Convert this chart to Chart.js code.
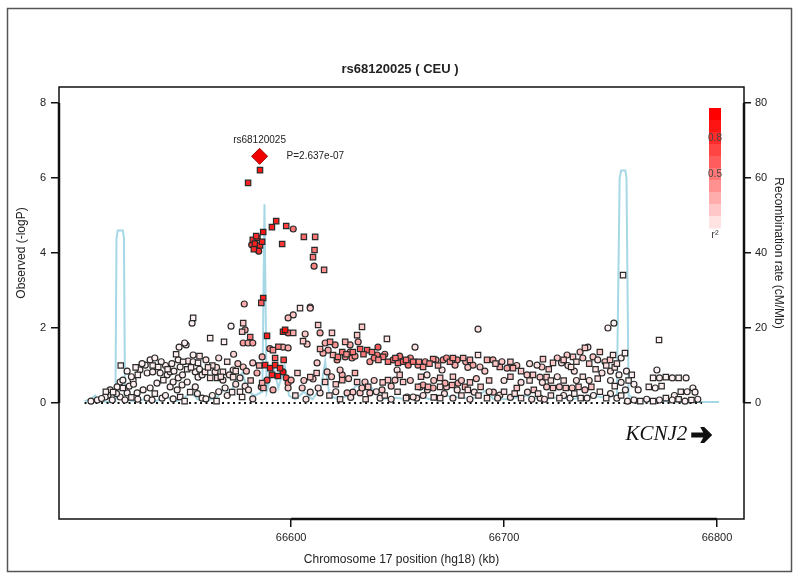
<!DOCTYPE html>
<html>
<head>
<meta charset="utf-8">
<script src="https://cdn.jsdelivr.net/npm/chart.js@4.4.1/dist/chart.umd.min.js"></script>
<style>
  html, body { margin: 0; padding: 0; background: #fff; }
  #wrap { width: 800px; height: 580px; }
</style>
</head>
<body>
<div id="wrap"><canvas id="chart" width="800" height="580"></canvas></div>
<script>
// ---- data ------------------------------------------------------------
const plotTitle = 'rs68120025 ( CEU )';
const xTitle = 'Chromosome 17 position (hg18) (kb)';
const yTitle = 'Observed (-logP)';
const y2Title = 'Recombination rate (cM/Mb)';

const xTicks = [66600, 66700, 66800];
const yTicks = [0, 2, 4, 6, 8];
const y2Ticks = [0, 20, 40, 60, 80];

// lead SNP
const leadName = 'rs68120025';
const leadPos = 66585.2;
const leadLogP = 6.579;
const leadPText = 'P=2.637e-07';

// gene track
const geneName = 'KCNJ2';
const genePos = 66757;
const geneRow = -0.85;

// r2 legend steps (top to bottom) and labels
const r2Steps = [1.0, 0.9, 0.8, 0.7, 0.6, 0.5, 0.4, 0.3, 0.2, 0.1];
const r2Labels = [0.8, 0.5];

// genotyped SNPs [kb, -logP, r2]
const squares = [
  [66585.4,6.21,0.9],[66579.8,5.87,0.85],
  [66586.9,4.56,0.9],[66591.0,4.69,0.85],[66593.0,4.85,0.85],[66597.7,4.72,0.7],[66606.0,4.43,0.55],[66611.3,4.43,0.5],
  [66595.8,4.24,0.75],[66611.0,4.08,0.5],[66610.3,3.89,0.5],[66615.5,3.55,0.4],
  [66582.0,4.35,0.8],[66583.0,4.25,0.85],[66584.2,4.4,0.8],[66585.4,4.2,0.85],[66582.5,4.1,0.8],[66586.4,4.3,0.85],[66583.6,4.45,0.8],
  [66586.9,2.8,0.85],[66586.0,2.67,0.6],
  [66604.2,2.53,0.1],[66554.0,2.27,0.05],[66577.5,2.13,0.2],[66562.0,1.73,0.05],[66568.5,1.63,0.05],[66577.0,1.9,0.2],
  [66580.8,1.76,0.5],[66588.7,1.79,0.85],[66596.2,1.9,0.85],[66597.2,1.95,0.9],[66601.0,1.87,0.3],[66612.7,2.08,0.2],
  [66619.2,1.87,0.2],[66605.6,1.65,0.2],[66631.0,1.81,0.2],[66633.3,2.03,0.2],[66645.0,1.71,0.1],[66755.9,3.41,0.05],
  [66772.8,1.68,0.05],[66625.4,1.63,0.3],
  [66591.5,1.41,0.4],[66613.6,1.44,0.3],[66618.3,1.63,0.4],[66619.7,1.28,0.3],[66622.0,1.23,0.5],[66624.0,1.36,0.5],
  [66629.0,1.36,0.5],[66632.4,1.44,0.6],[66635.7,1.41,0.6],[66638.0,1.36,0.5],[66643.2,1.23,0.5],[66645.5,1.1,0.5],
  [66650.2,1.07,0.5],[66652.6,1.1,0.6],[66657.3,1.1,0.5],[66662.0,0.96,0.4],[66666.7,1.17,0.4],[66674.6,1.1,0.4],
  [66680.8,1.2,0.3],[66692.0,1.15,0.3],[66698.0,0.96,0.3],[66704.2,0.93,0.3],[66687.8,1.28,0.1],[66713.6,0.75,0.2],
  [66720.0,0.69,0.2],[66718.3,1.17,0.2],[66723.0,1.07,0.2],[66732.4,1.23,0.2],[66738.0,1.47,0.2],[66745.0,1.36,0.2],
  [66749.8,1.15,0.2],[66751.2,1.28,0.1],[66756.8,1.33,0.05],[66731.5,0.96,0.1],[66743.0,0.9,0.1],[66752.0,0.95,0.1],
  [66587.8,1.01,0.85],[66590.2,0.93,0.9],[66592.5,1.01,0.85],[66594.8,0.93,0.85],[66591.0,0.75,0.85],[66593.8,0.72,0.9],
  [66596.5,1.15,0.7],[66594.0,1.5,0.5],[66592.5,1.2,0.6],
  [66609.0,0.69,0.2],[66616.0,0.56,0.2],[66624.0,0.61,0.3],[66631.0,0.56,0.2],[66636.2,0.43,0.2],[66645.5,0.61,0.2],
  [66652.6,0.56,0.2],[66659.6,0.43,0.3],[66664.3,0.43,0.3],[66670.0,0.67,0.2],[66675.6,0.48,0.3],[66681.7,0.43,0.3],
  [66670.0,0.43,0.1],[66683.0,0.35,0.1],[66689.0,0.43,0.2],[66706.0,0.4,0.2],[66714.0,0.35,0.2],[66723.0,0.4,0.2],
  [66729.0,0.4,0.2],[66735.0,0.43,0.2],[66741.0,0.43,0.2],[66654.0,0.13,0.1],[66670.0,0.13,0.1],[66692.0,0.13,0.1],
  [66708.0,0.13,0.1],[66726.0,0.13,0.1],[66736.0,0.13,0.05],[66748.0,0.13,0.05],
  [66562.0,0.67,0.1],[66565.3,0.67,0.1],[66572.8,0.69,0.1],[66572.3,0.29,0.05],[66577.0,0.16,0.05],[66586.4,0.53,0.3],
  [66587.0,0.4,0.3],[66537.6,0.96,0.05],[66551.2,0.9,0.05],[66559.6,0.83,0.1],[66568.0,0.83,0.1],[66556.3,1.07,0.05],
  [66549.3,1.1,0.05],[66528.0,0.75,0.05],[66540.0,0.61,0.05],[66516.4,0.29,0.05],[66521.0,0.4,0.05],[66547.9,0.16,0.05],
  [66552.6,0.29,0.05],[66563.0,1.0,0.1],[66570.0,1.1,0.1],[66557.0,1.25,0.1],
  [66770.0,0.67,0.05],[66776.0,0.69,0.05],[66782.0,0.67,0.05],[66768.0,0.43,0.05],[66774.0,0.45,0.05],[66783.0,0.3,0.05],
  [66760.0,0.75,0.05],[66758.5,0.6,0.05],[66764.0,0.05,0.05],[66770.0,0.05,0.05],[66776.0,0.13,0.05],[66782.0,0.1,0.05],
  [66788.0,0.08,0.05],
  [66626.0,1.3,0.4],[66634.0,1.3,0.5],[66641.0,1.15,0.4],[66649.0,1.2,0.5],[66654.0,1.15,0.5],[66660.0,1.1,0.4],
  [66665.0,1.05,0.4],[66669.0,1.0,0.3],[66676.0,1.2,0.4],[66684.0,1.15,0.3],
  [66696.0,1.05,0.2],[66703.0,1.1,0.2],[66708.0,0.85,0.2],[66721.0,0.9,0.2],[66728.0,1.15,0.2],[66734.0,1.1,0.1],
  [66740.0,1.05,0.2],[66748.0,1.0,0.1],[66753.0,1.05,0.1],
  [66603.0,0.8,0.2],[66612.0,0.8,0.2],[66621.0,0.5,0.2],[66630.0,0.8,0.3],[66643.0,0.55,0.2],[66651.0,0.75,0.2],
  [66661.0,0.7,0.2],[66676.0,0.7,0.2],[66684.0,0.55,0.2],[66693.0,0.6,0.2],[66703.0,0.7,0.2],[66712.0,0.6,0.1],
  [66722.0,0.6,0.1],[66728.0,0.6,0.1],[66737.0,0.7,0.1],[66744.0,0.65,0.1],[66752.0,0.45,0.05],
  [66602.0,0.2,0.1],[66618.0,0.2,0.1],[66623.0,0.1,0.1],[66635.0,0.1,0.1],[66644.0,0.2,0.1],[66650.0,0.3,0.1],
  [66667.0,0.15,0.1],[66680.0,0.2,0.1],[66688.0,0.2,0.1],[66700.0,0.3,0.1],[66705.0,0.25,0.1],[66716.0,0.25,0.1],
  [66722.0,0.2,0.1],[66733.0,0.25,0.05],[66745.0,0.3,0.05],[66755.0,0.2,0.05],
  [66527.0,0.95,0.05],[66535.0,1.0,0.05],[66542.0,0.9,0.05],[66546.0,1.3,0.05],[66553.0,0.95,0.05],[66561.0,0.95,0.1],
  [66567.0,0.7,0.1],[66574.0,0.85,0.1],[66581.0,0.6,0.2],[66585.0,1.0,0.3],[66576.0,0.3,0.05],[66565.0,0.05,0.05],
  [66550.0,0.05,0.05],[66536.0,0.25,0.05],[66525.0,0.15,0.05],[66513.0,0.3,0.05],[66520.0,1.0,0.05]
];

// imputed SNPs [kb, -logP, r2]
const circles = [
  [66601.0,4.64,0.5],[66610.8,3.65,0.45],[66584.8,4.05,0.8],[66581.5,4.22,0.75],
  [66578.0,2.64,0.3],[66609.0,2.56,0.3],[66601.0,2.35,0.2],[66598.6,2.27,0.25],[66553.5,2.13,0.05],[66571.8,2.05,0.05],
  [66687.8,1.97,0.1],[66748.8,2.0,0.05],[66751.6,2.13,0.05],[66658.2,1.49,0.1],[66640.8,1.49,0.6],[66577.5,1.6,0.35],
  [66578.4,1.95,0.3],[66598.6,1.87,0.6],[66606.6,1.84,0.2],[66613.6,1.87,0.3],[66607.5,1.57,0.2],[66631.5,1.63,0.3],
  [66609.0,2.53,0.2],
  [66579.8,1.6,0.3],[66582.0,1.6,0.35],[66596.2,1.49,0.3],[66598.6,1.47,0.3],[66616.0,1.6,0.3],[66620.7,1.55,0.4],
  [66617.4,1.41,0.3],[66621.6,1.15,0.4],[66627.7,1.55,0.3],[66628.6,1.2,0.4],[66637.0,1.1,0.4],[66640.4,1.28,0.5],
  [66647.9,1.15,0.5],[66655.0,1.01,0.5],[66659.6,1.01,0.4],[66671.4,1.15,0.4],[66678.0,1.15,0.4],[66677.0,1.01,0.3],
  [66612.2,1.07,0.2],[66615.0,1.33,0.3],[66625.4,1.23,0.4],[66627.7,1.36,0.4],[66685.4,1.01,0.3],[66688.7,0.96,0.2],
  [66691.0,0.85,0.2],[66694.8,1.15,0.3],[66701.4,0.93,0.3],[66710.8,0.75,0.2],[66716.9,0.69,0.2],[66717.8,0.96,0.2],
  [66715.5,1.01,0.1],[66729.6,1.28,0.2],[66735.7,1.36,0.2],[66739.4,1.49,0.1],[66741.8,1.23,0.2],[66747.4,1.1,0.2],
  [66727.0,1.07,0.1],[66733.0,0.85,0.1],[66746.0,0.8,0.1],[66754.0,0.75,0.05],[66757.5,0.85,0.05],
  [66596.2,0.83,0.9],[66588.7,0.61,0.7],[66597.7,0.67,0.7],[66586.0,0.43,0.4],[66590.0,1.45,0.4],[66598.6,0.53,0.5],
  [66600.0,0.61,0.3],
  [66660.6,0.43,0.1],[66664.0,0.35,0.1],[66673.0,0.43,0.2],[66678.0,0.35,0.1],[66686.0,0.29,0.1],[66695.0,0.29,0.2],
  [66698.0,0.21,0.1],[66711.0,0.29,0.1],[66720.0,0.43,0.2],[66726.0,0.43,0.2],[66732.0,0.4,0.2],[66738.0,0.35,0.2],
  [66641.8,0.13,0.1],[66659.0,0.13,0.1],[66676.0,0.13,0.1],[66697.0,0.13,0.1],[66717.0,0.13,0.1],[66731.0,0.13,0.05],
  [66739.0,0.13,0.05],[66753.0,0.13,0.05],[66648.8,0.61,0.2],[66654.5,0.16,0.1],[66657.3,0.16,0.1],[66662.0,0.48,0.3],
  [66666.7,0.4,0.3],[66670.9,0.88,0.1],[66672.3,0.53,0.3],[66678.4,0.53,0.3],[66663.8,0.75,0.1],[66649.8,0.88,0.1],
  [66642.7,0.35,0.2],[66637.0,0.27,0.2],[66632.4,0.27,0.2],[66633.3,0.4,0.2],[66634.7,0.56,0.2],[66629.0,0.29,0.2],
  [66626.3,0.27,0.2],[66624.0,0.75,0.3],[66623.0,0.88,0.2],[66616.9,0.83,0.2],[66613.6,0.27,0.1],[66612.7,0.4,0.1],
  [66609.0,0.29,0.1],[66610.3,0.64,0.2],[66605.2,0.4,0.2],[66598.6,0.4,0.2],[66591.5,0.35,0.3],
  [66547.4,1.49,0.05],[66550.7,1.55,0.05],[66554.0,1.28,0.05],[66547.0,1.15,0.05],[66551.6,1.12,0.1],[66554.0,1.1,0.05],
  [66547.9,0.96,0.05],[66555.0,0.83,0.05],[66564.3,0.83,0.1],[66572.8,0.88,0.1],[66577.5,0.96,0.2],[66582.0,1.07,0.2],
  [66586.4,1.23,0.3],[66533.8,1.15,0.05],[66536.0,1.2,0.05],[66531.5,1.01,0.05],[66529.0,0.88,0.05],[66525.8,0.61,0.05],
  [66532.4,0.8,0.05],[66535.0,0.83,0.05],[66538.5,0.8,0.05],[66541.8,0.75,0.05],[66543.2,0.83,0.05],[66537.0,0.53,0.05],
  [66533.8,0.4,0.05],[66530.5,0.35,0.05],[66527.7,0.27,0.05],[66519.7,0.56,0.05],[66521.0,0.61,0.05],[66518.3,0.43,0.05],
  [66515.0,0.35,0.05],[66514.0,0.21,0.05],[66512.7,0.16,0.05],[66519.7,0.16,0.05],[66522.0,0.08,0.05],[66516.0,0.08,0.05],
  [66523.0,0.27,0.05],[66532.4,0.13,0.05],[66534.7,0.08,0.05],[66539.4,0.13,0.05],[66543.2,0.43,0.05],[66544.6,0.56,0.05],
  [66547.0,0.67,0.05],[66546.5,0.35,0.05],[66548.8,0.48,0.05],[66551.2,0.56,0.05],[66544.6,0.11,0.05],[66555.0,0.43,0.05],
  [66558.2,0.13,0.05],[66560.0,0.11,0.05],[66568.0,0.61,0.1],[66576.0,0.67,0.1],[66582.0,0.11,0.1],[66556.3,0.69,0.05],
  [66558.2,0.75,0.05],[66509.0,0.08,0.05],[66511.0,0.12,0.05],[66524.0,0.45,0.05],[66526.0,0.5,0.05],[66541.0,1.0,0.05],
  [66544.0,1.05,0.05],[66560.0,1.15,0.1],[66566.0,1.2,0.1],[66573.0,1.3,0.15],[66575.0,1.05,0.2],[66569.0,0.4,0.05],
  [66566.0,0.3,0.05],[66563.0,0.2,0.05],[66578.4,0.45,0.1],[66580.0,0.35,0.1],[66574.0,0.5,0.1],[66550.0,1.6,0.05],
  [66761.0,0.5,0.05],[66763.0,0.35,0.05],[66771.8,0.88,0.05],[66773.0,0.67,0.05],[66779.0,0.67,0.05],[66785.5,0.67,0.05],
  [66771.0,0.4,0.05],[66788.7,0.4,0.05],[66789.7,0.29,0.05],[66786.0,0.3,0.05],[66780.0,0.2,0.05],[66758.0,0.05,0.05],
  [66761.0,0.08,0.05],[66767.0,0.1,0.05],[66773.0,0.08,0.05],[66779.0,0.08,0.05],[66785.0,0.05,0.05],[66791.0,0.1,0.05],
  [66630.0,1.25,0.4],[66639.0,1.2,0.5],[66644.0,1.3,0.4],[66651.0,1.25,0.5],[66656.0,1.2,0.4],[66663.0,1.1,0.4],
  [66668.0,1.15,0.3],[66673.0,1.2,0.4],[66682.0,1.1,0.3],
  [66683.0,0.95,0.2],[66699.0,1.1,0.2],[66706.0,1.0,0.2],[66712.0,1.05,0.1],[66725.0,1.2,0.2],[66730.0,1.0,0.1],
  [66737.0,1.2,0.2],[66744.0,1.15,0.1],[66750.0,0.85,0.1],[66755.0,1.2,0.05],
  [66606.0,0.6,0.2],[66619.0,0.7,0.2],[66627.0,0.65,0.2],[66639.0,0.6,0.2],[66647.0,0.45,0.2],[66656.0,0.6,0.2],
  [66667.0,0.6,0.2],[66680.0,0.6,0.2],[66687.0,0.65,0.2],[66700.0,0.6,0.1],[66708.0,0.55,0.1],[66718.0,0.55,0.1],
  [66725.0,0.7,0.1],[66734.0,0.6,0.1],[66740.0,0.6,0.1],[66750.0,0.6,0.05],[66755.0,0.55,0.05],
  [66607.0,0.1,0.1],[66621.0,0.3,0.1],[66628.0,0.15,0.1],[66640.0,0.3,0.1],[66647.0,0.1,0.1],[66662.0,0.2,0.1],
  [66672.0,0.25,0.1],[66684.0,0.1,0.1],[66693.0,0.3,0.1],[66703.0,0.15,0.1],[66713.0,0.1,0.1],[66719.0,0.1,0.1],
  [66728.0,0.2,0.05],[66742.0,0.2,0.05],[66750.0,0.25,0.05],[66757.0,0.35,0.05],
  [66525.0,0.7,0.05],[66530.0,1.05,0.05],[66539.0,1.1,0.05],[66545.0,0.85,0.05],[66549.0,0.75,0.05],[66557.0,0.9,0.05],
  [66565.0,0.95,0.1],[66571.0,0.75,0.1],[66579.0,0.85,0.2],[66584.0,0.8,0.3],[66570.0,0.2,0.05],[66556.0,0.25,0.05],
  [66541.0,0.2,0.05],[66528.0,0.1,0.05],[66518.0,0.25,0.05],[66506.0,0.05,0.05],[66523.0,0.85,0.05]
];

// recombination rate (cM/Mb)
const recombPos = [66503, 66506, 66508, 66510, 66514, 66517.5, 66518, 66518.6, 66521, 66521.5, 66522, 66526, 66532,
  66536, 66542, 66546, 66550, 66553, 66556, 66560, 66565, 66569, 66571, 66574, 66577, 66580, 66583, 66586.5, 66587.5,
  66588.5, 66590, 66592, 66594, 66597, 66599, 66602, 66606, 66610, 66614, 66616, 66618, 66622, 66627, 66631, 66633,
  66635, 66638, 66642, 66648, 66655, 66660, 66665, 66672, 66679, 66685, 66692, 66695, 66702, 66710, 66718, 66725,
  66732, 66740, 66748, 66753, 66754.3, 66755, 66757, 66757.5, 66758.5, 66762, 66770, 66780, 66790, 66801];
const recombRate = [0.5, 1, 2, 0.5, 0.3, 0.5, 44, 46, 46, 44, 1, 0.5, 1,
  0.5, 1.5, 0.5, 1.5, 3, 1, 0.5, 1.5, 4, 2, 6, 8, 3, 2, 3, 53,
  3, 6, 9, 4, 10, 2, 1, 3, 1, 4, 11, 2, 1, 2, 5, 3,
  6, 4, 1, 1.5, 1, 2, 1, 2, 1.5, 1, 3.5, 1, 1, 2, 1, 1.5,
  1, 2, 1.5, 2, 60, 62, 62, 60, 2, 1, 0.5, 0.5, 0.3, 0.3];

// dotted baseline span
const baselineSpan = [66503, 66793];

// ---- helpers ---------------------------------------------------------
const FONT = '"Liberation Sans", Arial, sans-serif';
const TEXT = '#222';

function r2Color(r) {
  const g = Math.round(255 * Math.pow(1 - Math.min(r, 1), 1.1));
  return `rgb(255,${g},${g})`;
}
const toPts = (rows) => rows.map(([x, y, r2]) => ({ x, y, r2 }));
const fixedTicks = (vals) => (s) => { s.ticks = vals.map((v) => ({ value: v })); };

// ---- overlay: frame, R-style axis lines, legend, labels ----------------
const overlay = {
  id: 'overlay',
  afterDatasetsDraw(chart) {
    const { ctx, chartArea: a, scales: { x, y, y2 } } = chart;
    ctx.save();

    // plot box
    ctx.strokeStyle = '#111';
    ctx.lineWidth = 1.5;
    ctx.strokeRect(a.left, a.top, a.right - a.left, a.bottom - a.top);

    // axis lines from first to last tick
    ctx.lineWidth = 2.5;
    ctx.beginPath();
    ctx.moveTo(a.left, y.getPixelForValue(yTicks[0]));
    ctx.lineTo(a.left, y.getPixelForValue(yTicks[yTicks.length - 1]));
    ctx.moveTo(a.right, y2.getPixelForValue(y2Ticks[0]));
    ctx.lineTo(a.right, y2.getPixelForValue(y2Ticks[y2Ticks.length - 1]));
    ctx.moveTo(x.getPixelForValue(xTicks[0]), a.bottom);
    ctx.lineTo(x.getPixelForValue(xTicks[xTicks.length - 1]), a.bottom);
    ctx.stroke();

    // lead SNP labels
    const lx = x.getPixelForValue(leadPos), ly = y.getPixelForValue(leadLogP);
    ctx.fillStyle = TEXT;
    ctx.font = '10px ' + FONT;
    ctx.textBaseline = 'middle';
    ctx.textAlign = 'center';
    ctx.fillText(leadName, lx, ly - 16);
    ctx.textAlign = 'left';
    ctx.fillText(leadPText, lx + 27, ly);

    // r2 legend bar
    const bx = a.right - 35, by = a.top + 21, bw = 12, sh = 12;
    r2Steps.forEach((v, i) => {
      ctx.fillStyle = r2Color(v);
      ctx.fillRect(bx, by + i * sh, bw, sh + 0.5);
    });
    ctx.fillStyle = '#444';
    ctx.font = '10px ' + FONT;
    ctx.textAlign = 'center';
    r2Labels.forEach((v) => {
      const i = r2Steps.indexOf(v);
      ctx.fillText(v.toFixed(1), bx + bw / 2, by + i * sh + sh / 2);
    });
    ctx.font = '11px ' + FONT;
    ctx.fillText('r²', bx + bw / 2, by + r2Steps.length * sh + 7);

    // gene label with arrow
    const gx = x.getPixelForValue(genePos), gy = y.getPixelForValue(geneRow);
    ctx.fillStyle = '#111';
    ctx.font = 'italic 21px "Liberation Serif", "Times New Roman", serif';
    ctx.textAlign = 'left';
    ctx.fillText(geneName, gx, gy);
    const ax = gx + ctx.measureText(geneName).width + 4;
    ctx.beginPath();
    ctx.moveTo(ax, gy - 2.5);
    ctx.lineTo(ax + 12, gy - 2.5);
    ctx.lineTo(ax + 9, gy - 8);
    ctx.lineTo(ax + 13, gy - 8);
    ctx.lineTo(ax + 21, gy);
    ctx.lineTo(ax + 13, gy + 8);
    ctx.lineTo(ax + 9, gy + 8);
    ctx.lineTo(ax + 12, gy + 2.5);
    ctx.lineTo(ax, gy + 2.5);
    ctx.closePath();
    ctx.fill();

    // y axis titles centred on the tick range
    ctx.fillStyle = TEXT;
    ctx.font = '12px ' + FONT;
    ctx.textAlign = 'center';
    const ym = (y.getPixelForValue(yTicks[0]) + y.getPixelForValue(yTicks[yTicks.length - 1])) / 2;
    ctx.save();
    ctx.translate(22, ym);
    ctx.rotate(-Math.PI / 2);
    ctx.fillText(yTitle, 0, 0);
    ctx.restore();
    const y2m = (y2.getPixelForValue(y2Ticks[0]) + y2.getPixelForValue(y2Ticks[y2Ticks.length - 1])) / 2;
    ctx.save();
    ctx.translate(778, y2m);
    ctx.rotate(Math.PI / 2);
    ctx.fillText(y2Title, 0, 0);
    ctx.restore();

    ctx.restore();
  },
  afterDraw(chart) {
    const { ctx } = chart;
    ctx.save();
    ctx.strokeStyle = '#555';
    ctx.lineWidth = 1.5;
    ctx.strokeRect(7.5, 8.5, 784, 563);
    ctx.restore();
  }
};

// ---- chart -----------------------------------------------------------
Chart.defaults.font.family = FONT;
Chart.defaults.color = TEXT;

new Chart(document.getElementById('chart'), {
  type: 'scatter',
  data: {
    datasets: [
      {
        label: 'lead',
        data: [{ x: leadPos, y: leadLogP }],
        pointStyle: 'rectRot',
        pointRadius: 8,
        backgroundColor: '#f00000',
        borderColor: '#a00000',
        borderWidth: 1,
        order: 0,
      },
      {
        label: 'genotyped',
        data: toPts(squares),
        pointStyle: 'rect',
        pointRadius: 3.8,
        backgroundColor: (c) => r2Color(c.raw ? c.raw.r2 : 0),
        borderColor: '#2a2a2a',
        borderWidth: 1.2,
        order: 1,
      },
      {
        label: 'imputed',
        data: toPts(circles),
        pointStyle: 'circle',
        pointRadius: 3,
        backgroundColor: (c) => r2Color(c.raw ? c.raw.r2 : 0),
        borderColor: '#2a2a2a',
        borderWidth: 1.2,
        order: 2,
      },
      {
        label: 'baseline',
        data: baselineSpan.map((v) => ({ x: v, y: 0 })),
        showLine: true,
        pointRadius: 0,
        borderColor: '#111',
        borderWidth: 2,
        borderDash: [2, 3.5],
        order: 3,
      },
      {
        label: 'recombination',
        yAxisID: 'y2',
        data: recombPos.map((v, i) => ({ x: v, y: recombRate[i] })),
        showLine: true,
        pointRadius: 0,
        borderColor: '#a6d8e6',
        borderWidth: 2,
        tension: 0,
        order: 4,
      },
    ],
  },
  options: {
    responsive: false,
    animation: false,
    devicePixelRatio: 1,
    layout: { padding: 0 },
    plugins: {
      legend: { display: false },
      tooltip: { enabled: false },
      title: {
        display: true,
        text: plotTitle,
        color: TEXT,
        font: { size: 13, weight: 'bold' },
        padding: { top: 62, bottom: 9.4 },
      },
    },
    scales: {
      x: {
        type: 'linear',
        position: 'bottom',
        min: 66491,
        max: 66812.7,
        afterBuildTicks: fixedTicks(xTicks),
        afterFit: (s) => { s.height = 61; },
        ticks: { color: TEXT, font: { size: 11 }, padding: 4, maxRotation: 0, callback: (v) => String(v) },
        grid: { drawOnChartArea: false, drawTicks: true, tickLength: 8, color: '#111', lineWidth: 1.5 },
        border: { display: false },
        title: { display: true, text: xTitle, color: TEXT, font: { size: 12 }, padding: { top: 0, bottom: 13.5 } },
      },
      y: {
        type: 'linear',
        position: 'left',
        min: -3.093,
        max: 8.427,
        afterBuildTicks: fixedTicks(yTicks),
        afterFit: (s) => { s.width = 59; },
        ticks: { color: TEXT, font: { size: 11 }, padding: 5 },
        grid: { drawOnChartArea: false, drawTicks: true, tickLength: 8, color: '#111', lineWidth: 1.5 },
        border: { display: false },
      },
      y2: {
        type: 'linear',
        position: 'right',
        min: -30.93,
        max: 84.27,
        afterBuildTicks: fixedTicks(y2Ticks),
        afterFit: (s) => { s.width = 56; },
        ticks: { color: TEXT, font: { size: 11 }, padding: 4 },
        grid: { drawOnChartArea: false, drawTicks: true, tickLength: 7, color: '#111', lineWidth: 1.5 },
        border: { display: false },
      },
    },
  },
  plugins: [overlay],
});
</script>
</body>
</html>
